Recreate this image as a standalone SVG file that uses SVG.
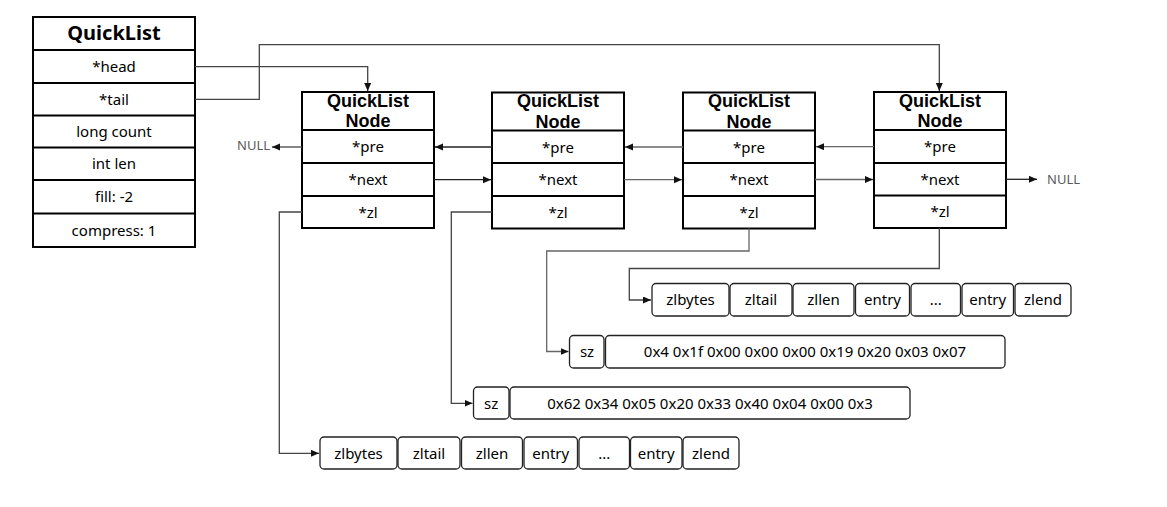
<svg xmlns="http://www.w3.org/2000/svg" width="1167" height="507" viewBox="0 0 1167 507">
<style>
  text { font-family: "Noto Sans", "Open Sans", "Liberation Sans", sans-serif; fill: #000; text-anchor: middle; dominant-baseline: central; }
  .t { font-size: 15px; }
  .title { font-size: 20px; font-weight: bold; }
  .nt { font-family: "Liberation Sans", Arial, sans-serif; font-size: 18px; font-weight: bold; }
  .null { font-size: 13px; fill: #5a5a5a; text-anchor: start; }
  .box { fill: #fff; stroke: #000; stroke-width: 2; }
  .div { stroke: #000; stroke-width: 2; }
  .cell { fill: #fff; stroke: #222; stroke-width: 1.3; }
  .c { fill: none; stroke-width: 1.3; }
  .dk { stroke: #222; }
  .md { stroke: #444; }
  .gy { stroke: #666; }
</style>
<defs>
  <marker id="arr" markerUnits="userSpaceOnUse" markerWidth="9" markerHeight="8" refX="8" refY="3.5" orient="auto">
    <path d="M0,0 L8,3.5 L0,7 z" fill="#111"/>
  </marker>
</defs>
<rect width="1167" height="507" fill="#fff"/>

<g id="quicklist">
  <rect class="box" x="33" y="17" width="162" height="230"/>
  <line class="div" x1="33" y1="50" x2="195" y2="50"/>
  <line class="div" x1="33" y1="83" x2="195" y2="83"/>
  <line class="div" x1="33" y1="115.5" x2="195" y2="115.5"/>
  <line class="div" x1="33" y1="147.5" x2="195" y2="147.5"/>
  <line class="div" x1="33" y1="180" x2="195" y2="180"/>
  <line class="div" x1="33" y1="213.5" x2="195" y2="213.5"/>
  <text class="title" x="114" y="32.5">QuickList</text>
  <text class="t" x="114" y="66">*head</text>
  <text class="t" x="114" y="98.5">*tail</text>
  <text class="t" x="114" y="130.5">long count</text>
  <text class="t" x="114" y="163">int len</text>
  <text class="t" x="114" y="196">fill: -2</text>
  <text class="t" x="114" y="229.5">compress: 1</text>
</g>

<g id="node1">
  <rect class="box" x="302" y="92" width="132" height="136"/>
  <line class="div" x1="302" y1="130" x2="434" y2="130"/>
  <line class="div" x1="302" y1="163" x2="434" y2="163"/>
  <line class="div" x1="302" y1="196" x2="434" y2="196"/>
  <text class="nt" x="368" y="100.5"><tspan x="368" y="100.5">QuickList</tspan><tspan x="368" y="121">Node</tspan></text>
  <text class="t" x="368" y="146">*pre</text>
  <text class="t" x="368" y="179">*next</text>
  <text class="t" x="368" y="211.5">*zl</text>
</g>
<g id="node2">
  <rect class="box" x="492" y="92.5" width="132" height="136"/>
  <line class="div" x1="492" y1="130.5" x2="624" y2="130.5"/>
  <line class="div" x1="492" y1="163" x2="624" y2="163"/>
  <line class="div" x1="492" y1="196" x2="624" y2="196"/>
  <text class="nt" x="558" y="101"><tspan x="558" y="101">QuickList</tspan><tspan x="558" y="121.5">Node</tspan></text>
  <text class="t" x="558" y="146.5">*pre</text>
  <text class="t" x="558" y="179">*next</text>
  <text class="t" x="558" y="211.5">*zl</text>
</g>
<g id="node3">
  <rect class="box" x="683" y="92.5" width="132" height="136"/>
  <line class="div" x1="683" y1="130.5" x2="815" y2="130.5"/>
  <line class="div" x1="683" y1="163" x2="815" y2="163"/>
  <line class="div" x1="683" y1="196" x2="815" y2="196"/>
  <text class="nt" x="749" y="101"><tspan x="749" y="101">QuickList</tspan><tspan x="749" y="121.5">Node</tspan></text>
  <text class="t" x="749" y="146.5">*pre</text>
  <text class="t" x="749" y="179">*next</text>
  <text class="t" x="749" y="211.5">*zl</text>
</g>
<g id="node4">
  <rect class="box" x="874" y="92" width="132" height="136"/>
  <line class="div" x1="874" y1="130" x2="1006" y2="130"/>
  <line class="div" x1="874" y1="163" x2="1006" y2="163"/>
  <line class="div" x1="874" y1="195.5" x2="1006" y2="195.5"/>
  <text class="nt" x="940" y="100.5"><tspan x="940" y="100.5">QuickList</tspan><tspan x="940" y="121">Node</tspan></text>
  <text class="t" x="940" y="146">*pre</text>
  <text class="t" x="940" y="178.5">*next</text>
  <text class="t" x="940" y="211">*zl</text>
</g>

<g id="null-left"><text class="null" x="237" y="145">NULL</text></g>
<g id="null-right"><text class="null" x="1047" y="179">NULL</text></g>

<g id="ziplist-b">
  <rect class="cell" x="652" y="283.5" width="77" height="32.5" rx="4"/>
  <rect class="cell" x="730" y="283.5" width="62" height="32.5" rx="4"/>
  <rect class="cell" x="793" y="283.5" width="61" height="32.5" rx="4"/>
  <rect class="cell" x="855.5" y="283.5" width="54" height="32.5" rx="4"/>
  <rect class="cell" x="911" y="283.5" width="49.5" height="32.5" rx="4"/>
  <rect class="cell" x="962" y="283.5" width="51.5" height="32.5" rx="4"/>
  <rect class="cell" x="1015" y="283.5" width="56" height="32.5" rx="4"/>
  <text class="t" x="690.5" y="299">zlbytes</text>
  <text class="t" x="761" y="299">zltail</text>
  <text class="t" x="823.5" y="299">zllen</text>
  <text class="t" x="882.5" y="299">entry</text>
  <text class="t" x="935.7" y="299">...</text>
  <text class="t" x="987.7" y="299">entry</text>
  <text class="t" x="1043" y="299">zlend</text>
</g>

<g id="lzf-a">
  <rect class="cell" x="569.5" y="335.5" width="34.5" height="32.5" rx="4"/>
  <rect class="cell" x="605.5" y="335.5" width="399.5" height="32.5" rx="4"/>
  <text class="t" x="587" y="351">sz</text>
  <text class="t" x="805" y="351">0x4 0x1f 0x00 0x00 0x00 0x19 0x20 0x03 0x07</text>
</g>

<g id="lzf-b">
  <rect class="cell" x="473.5" y="387" width="35.5" height="32" rx="4"/>
  <rect class="cell" x="510" y="387" width="400" height="32" rx="4"/>
  <text class="t" x="491.2" y="402.5">sz</text>
  <text class="t" x="710" y="402.5">0x62 0x34 0x05 0x20 0x33 0x40 0x04 0x00 0x3</text>
</g>

<g id="ziplist-a">
  <rect class="cell" x="320" y="437" width="77" height="32" rx="4"/>
  <rect class="cell" x="398" y="437" width="62" height="32" rx="4"/>
  <rect class="cell" x="461.5" y="437" width="61" height="32" rx="4"/>
  <rect class="cell" x="524" y="437" width="53.5" height="32" rx="4"/>
  <rect class="cell" x="579" y="437" width="50.5" height="32" rx="4"/>
  <rect class="cell" x="630.5" y="437" width="51.5" height="32" rx="4"/>
  <rect class="cell" x="683" y="437" width="56" height="32" rx="4"/>
  <text class="t" x="358.5" y="452.5">zlbytes</text>
  <text class="t" x="429" y="452.5">zltail</text>
  <text class="t" x="492" y="452.5">zllen</text>
  <text class="t" x="550.7" y="452.5">entry</text>
  <text class="t" x="604.2" y="452.5">...</text>
  <text class="t" x="656.2" y="452.5">entry</text>
  <text class="t" x="711" y="452.5">zlend</text>
</g>

<g id="connectors">
  <path class="c md" d="M195,66.7 H367.7 V91" marker-end="url(#arr)"/>
  <path class="c md" d="M195,99.3 H259.3 V44.7 H939.3 V91" marker-end="url(#arr)"/>
  <path class="c md" d="M302,147 H272" marker-end="url(#arr)"/>
  <path class="c dk" d="M492,147 H435" marker-end="url(#arr)"/>
  <path class="c dk" d="M434,179.7 H491" marker-end="url(#arr)"/>
  <path class="c gy" d="M683,147 H625" marker-end="url(#arr)"/>
  <path class="c gy" d="M624,179.7 H682" marker-end="url(#arr)"/>
  <path class="c gy" d="M874,146.7 H816" marker-end="url(#arr)"/>
  <path class="c gy" d="M815,179.5 H873" marker-end="url(#arr)"/>
  <path class="c dk" d="M1006,179.3 H1037" marker-end="url(#arr)"/>
  <path class="c md" d="M302,212 H279.3 V453.3 H319" marker-end="url(#arr)"/>
  <path class="c md" d="M492,212 H451.3 V403.3 H472.5" marker-end="url(#arr)"/>
  <path class="c gy" d="M749,228.5 V251 H546.7 V351.5 H568.5" marker-end="url(#arr)"/>
  <path class="c md" d="M939.3,228 V268.5 H629.3 V300 H651" marker-end="url(#arr)"/>
</g>
</svg>
